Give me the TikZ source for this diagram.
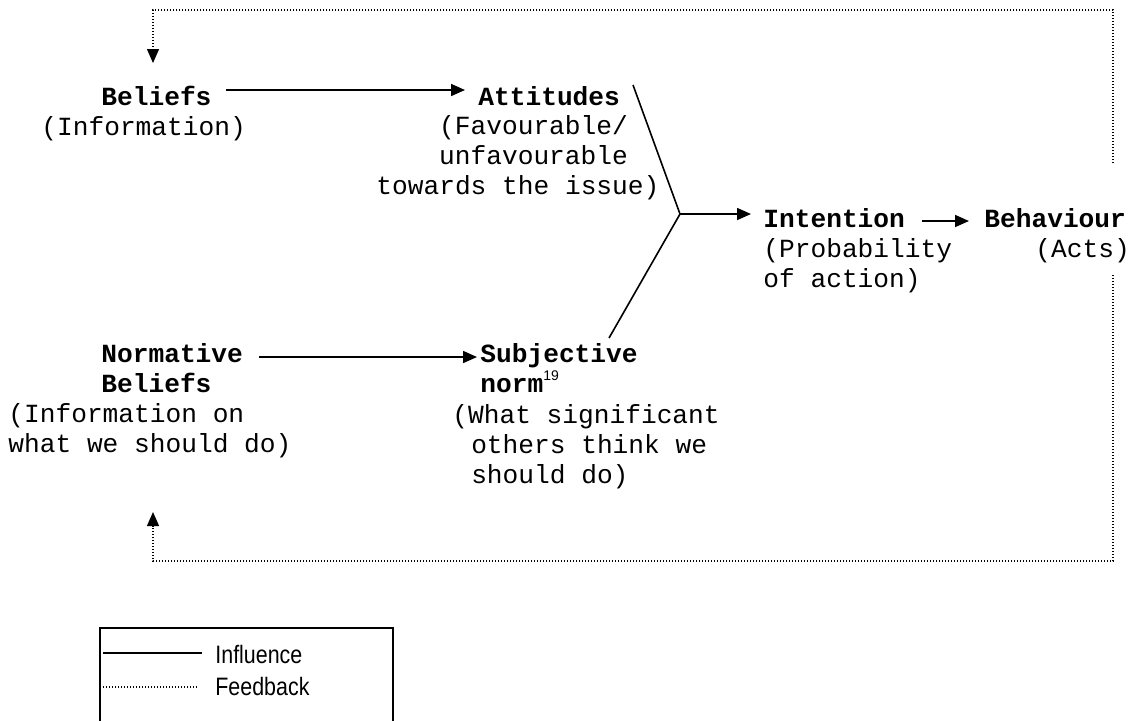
\documentclass[tikz,border=0pt]{standalone}
\usepackage{fontspec}
\setmonofont{Liberation Mono}
\newfontfamily\legendfont{Liberation Sans}
\usetikzlibrary{arrows.meta}

\newlength{\cw}
\setlength{\cw}{7.85pt}
\newcommand{\diagfont}{\ttfamily\fontsize{13.1pt}{15pt}\selectfont}

\tikzset{
  heading/.style={font=\diagfont\bfseries, anchor=base west, align=left, inner sep=0pt},
  note/.style={font=\diagfont, anchor=base west, align=left, inner sep=0pt},
  influence/.style={line width=0.8pt},
  feedback/.style={line width=0.6pt, dash pattern=on 0.6pt off 0.9pt},
  keytext/.style={font=\legendfont\fontsize{12.6pt}{14pt}\selectfont, anchor=base west, inner sep=0pt},
}

\begin{document}
\begin{tikzpicture}[x=0.5pt, y=-0.5pt, >={Triangle[length=7pt, width=6pt]}]

    \useasboundingbox (0, 0) rectangle (1138, 720);

    % Nodes for the top row (multi-line nodes sit on their last line)
    \node at (101, 105) (beliefs) [heading] {Beliefs};
    \node at (41, 135) (beliefsInfo) [note] {(Information)};
    \node at (478, 105) (attitudes) [heading] {Attitudes};
    \node at (376, 194) (attitudesInfo) [note] {\hspace*{4\cw}(Favourable/\\\hspace*{4\cw}unfavourable\\towards the issue)};

    % Nodes for the middle row
    \node at (763, 227) (intention) [heading] {Intention};
    \node at (763, 287) (intentionInfo) [note] {(Probability\\of action)};
    \node at (984, 227) (behaviour) [heading] {Behaviour};
    \node at (1035, 257) (behaviourInfo) [note] {(Acts)};

    % Nodes for the bottom row
    \node at (101, 392) (normative) [heading] {Normative\\Beliefs};
    \node at (8, 452) (normativeInfo) [note] {(Information on\\what we should do)};
    \node at (480, 392) (subjective) [heading] {Subjective\\norm\raisebox{6pt}{\legendfont\mdseries\fontsize{7pt}{7pt}\selectfont 19}};
    \node at (452, 483) (subjectiveInfo) [note] {(What significant\\\hspace*{1.2\cw}others think we\\\hspace*{1.2\cw}should do)};

    % Points where the lines meet
    \coordinate (attEnd) at (633, 85);
    \coordinate (subEnd) at (609, 338);
    \coordinate (join) at (680, 214);
    \coordinate (fbTopStart) at (1113, 163);
    \coordinate (fbTopEnd) at (153, 63);
    \coordinate (fbBotStart) at (1113, 275);
    \coordinate (fbBotEnd) at (153, 512);

    % Influence arrows
    \draw[influence, ->] ([xshift=7pt, yshift=7.5pt] beliefs.base east) -- ([xshift=-6.5pt, yshift=7.5pt] attitudes.base west);
    \draw[influence, ->] ([xshift=8pt, yshift=17.5pt] normative.base east) -- ([xshift=-1.5pt, yshift=17.5pt] subjective.base west);
    \draw[influence] (attEnd) -- (join) -- (subEnd);
    \draw[influence, ->] (join) -- ([xshift=-6pt, yshift=6.5pt] intention.base west);
    \draw[influence, ->] ([xshift=8.5pt, yshift=3pt] intention.base east) -- ([xshift=-7.5pt, yshift=3pt] behaviour.base west);

    % Feedback arrows
    \draw[feedback, ->] (fbTopStart) |- (153, 10) -- (fbTopEnd);
    \draw[feedback, ->] (fbBotStart) |- (153, 561) -- (fbBotEnd);

    % Key
    \draw[influence] (100, 722) -- (100, 628) -- (393, 628) -- (393, 722);
    \coordinate (keyA) at (103, 653);
    \coordinate (keyB) at (202, 653);
    \coordinate (keyC) at (103, 687);
    \coordinate (keyD) at (197, 687);
    \draw[influence] (keyA) -- (keyB);
    \draw[feedback] (keyC) -- (keyD);
    \node at (215, 663) (keyInfluence) [keytext] {\scalebox{0.85}[1]{Influence}};
    \node at (215, 695) (keyFeedback) [keytext] {\scalebox{0.85}[1]{Feedback}};

\end{tikzpicture}
\end{document}
